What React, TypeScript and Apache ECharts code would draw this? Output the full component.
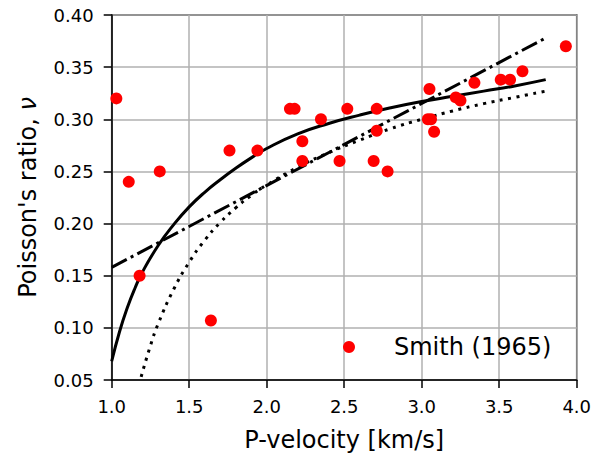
import React, { useEffect, useRef } from "react";
import * as echarts from "echarts";

// Smith (1965) measurements
const scatterX = [1.03, 1.11, 1.18, 1.31, 1.64, 1.76, 1.94, 2.15, 2.18, 2.23, 2.23, 2.35, 2.47, 2.52, 2.69, 2.71, 2.71, 2.78, 3.04, 3.06, 3.05, 3.08, 3.22, 3.25, 3.34, 3.51, 3.57, 3.65, 3.93];
const scatterY = [0.32, 0.24, 0.15, 0.25, 0.107, 0.27, 0.27, 0.31, 0.31, 0.279, 0.26, 0.30, 0.26, 0.31, 0.26, 0.31, 0.289, 0.25, 0.30, 0.30, 0.329, 0.288, 0.321, 0.318, 0.335, 0.338, 0.338, 0.346, 0.37];

// Solid curve
const solidX = [1.0, 1.05, 1.1, 1.15, 1.2, 1.3, 1.4, 1.5, 1.6, 1.7, 1.8, 1.9, 2.0, 2.2, 2.4, 2.6, 2.8, 3.0, 3.2, 3.4, 3.6, 3.8];
const solidY = [0.068, 0.096, 0.119, 0.138, 0.154, 0.179, 0.199, 0.216, 0.230, 0.242, 0.253, 0.263, 0.272, 0.286, 0.296, 0.304, 0.311, 0.317, 0.322, 0.327, 0.332, 0.338];

// Dotted curve
const dottedX = [1.19, 1.25, 1.3, 1.4, 1.5, 1.6, 1.7, 1.8, 1.9, 2.0, 2.2, 2.4, 2.6, 2.8, 3.0, 3.2, 3.4, 3.6, 3.8];
const dottedY = [0.053, 0.083, 0.104, 0.137, 0.163, 0.184, 0.201, 0.215, 0.227, 0.237, 0.254, 0.268, 0.280, 0.291, 0.300, 0.308, 0.315, 0.321, 0.327];

// Dash-dot straight line
const dashDotX = [1.0, 3.8];
const dashDotY = [0.158, 0.378];

const legendLabel = "Smith (1965)";

const pairs = (xs: number[], ys: number[]) => xs.map((x, i) => [x, ys[i]]);

const FONT = "DejaVu Sans";

export default function App() {
  const ref = useRef<HTMLDivElement>(null);
  useEffect(() => {
    if (!ref.current) return;
    const chart = echarts.init(ref.current, null, { renderer: "svg" });
    chart.setOption({
      animation: false,
      backgroundColor: "#ffffff",
      textStyle: { fontFamily: FONT },
      grid: {
        left: 111.7,
        right: 26.3,
        top: 15,
        bottom: 76,
        show: true,
        borderColor: "#000",
        borderWidth: 1.5,
      },
      legend: {
        data: [legendLabel],
        left: 338,
        top: 330,
        itemWidth: 80,
        itemHeight: 12,
        itemGap: 0,
        textStyle: { fontSize: 24, color: "#000", fontFamily: FONT },
      },
      xAxis: {
        type: "value",
        min: 1.0,
        max: 4.0,
        interval: 0.5,
        name: "P-velocity [km/s]",
        nameLocation: "middle",
        nameGap: 48,
        nameTextStyle: { fontSize: 24, color: "#000", fontFamily: FONT },
        axisLine: { show: true, lineStyle: { color: "#000", width: 1.5 } },
        axisTick: { show: true, length: 8, lineStyle: { color: "#000", width: 1.5 } },
        axisLabel: {
          fontSize: 18,
          color: "#000",
          margin: 17,
          fontFamily: FONT,
          formatter: (v: number) => v.toFixed(1),
        },
        splitLine: { show: true, lineStyle: { color: "#b0b0b0", width: 1.5 } },
      },
      yAxis: {
        type: "value",
        min: 0.05,
        max: 0.4,
        interval: 0.05,
        name: "{a|Poisson's ratio, }{b|ν}",
        nameLocation: "middle",
        nameGap: 72,
        nameTextStyle: {
          fontSize: 24,
          color: "#000",
          fontFamily: FONT,
          rich: {
            a: { fontSize: 24, color: "#000", fontFamily: FONT },
            b: { fontSize: 24, color: "#000", fontFamily: FONT, fontStyle: "italic" },
          },
        },
        axisLine: { show: true, lineStyle: { color: "#000", width: 1.5 } },
        axisTick: { show: true, length: 8, lineStyle: { color: "#000", width: 1.5 } },
        axisLabel: {
          fontSize: 18,
          color: "#000",
          margin: 18,
          fontFamily: FONT,
          formatter: (v: number) => v.toFixed(2),
        },
        splitLine: { show: true, lineStyle: { color: "#b0b0b0", width: 1.5 } },
      },
      series: [
        {
          type: "line",
          name: "solid",
          data: pairs(solidX, solidY),
          smooth: 0.5,
          showSymbol: false,
          lineStyle: { color: "#000", width: 3, type: "solid" },
          z: 3,
        },
        {
          type: "line",
          name: "dashdot",
          data: pairs(dashDotX, dashDotY),
          showSymbol: false,
          lineStyle: { color: "#000", width: 3, type: [17, 4.5, 3, 4.5] },
          z: 3,
        },
        {
          type: "line",
          name: "dotted",
          data: pairs(dottedX, dottedY),
          smooth: 0.5,
          showSymbol: false,
          lineStyle: { color: "#000", width: 3, type: [3, 5.5] },
          z: 3,
        },
        {
          type: "scatter",
          name: legendLabel,
          data: pairs(scatterX, scatterY),
          symbol: "circle",
          symbolSize: 12,
          itemStyle: { color: "#ff0000", opacity: 1 },
          z: 5,
        },
      ],
    });
    return () => chart.dispose();
  }, []);
  return (
    <div
      ref={ref}
      style={{ position: "fixed", left: 0, top: 0, width: 603, height: 457, background: "#fff" }}
    />
  );
}
